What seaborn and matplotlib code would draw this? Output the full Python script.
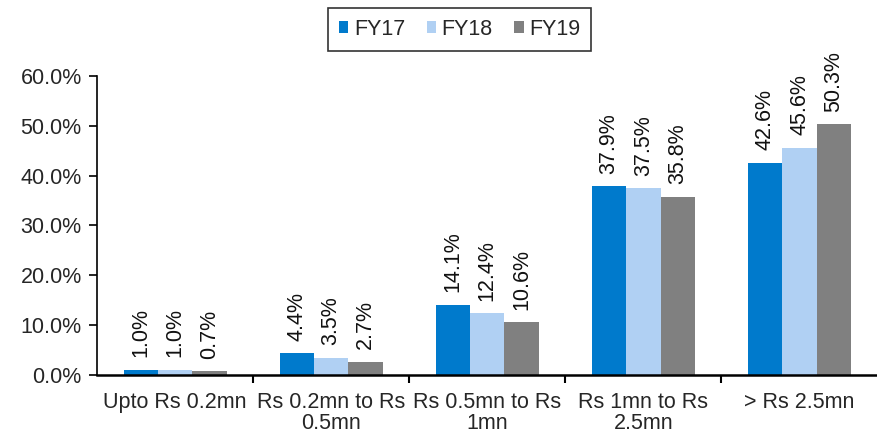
import matplotlib
matplotlib.use("Agg")
import matplotlib.pyplot as plt
import seaborn as sns
import pandas as pd
from matplotlib.ticker import FixedLocator, FuncFormatter

categories = ["Upto Rs 0.2mn", "Rs 0.2mn to Rs\n0.5mn", "Rs 0.5mn to Rs\n1mn",
              "Rs 1mn to Rs\n2.5mn", "> Rs 2.5mn"]
years = ["FY17", "FY18", "FY19"]
fy17 = [1.0, 4.4, 14.1, 37.9, 42.6]
fy18 = [1.0, 3.5, 12.4, 37.5, 45.6]
fy19 = [0.7, 2.7, 10.6, 35.8, 50.3]
colors = ["#007ACC", "#B0D0F3", "#808080"]

rows = []
for yr, vals in zip(years, [fy17, fy18, fy19]):
    for cat, v in zip(categories, vals):
        rows.append({"category": cat, "year": yr, "share": v})
df = pd.DataFrame(rows)

sns.set_style("white")
plt.rcParams["font.family"] = ["Liberation Sans", "DejaVu Sans"]

FS = 15.5
fig = plt.figure(figsize=(8.78, 4.33), dpi=100)
ax = fig.add_axes([0.1105, 0.134, 0.889, 0.6905])

sns.barplot(data=df, x="category", y="share", hue="year", order=categories,
            hue_order=years, palette=colors, width=0.66, gap=0,
            saturation=1, errorbar=None, ax=ax, edgecolor="none")

# value labels above each bar
for container, vals in zip(ax.containers, [fy17, fy18, fy19]):
    ax.bar_label(container, labels=[f"{v:.1f}%" for v in vals], rotation=90,
                 padding=9, fontsize=FS, color="#111111")

ax.set_ylim(0, 60)
ax.set_xlim(-0.5, len(categories) - 0.5)
ax.yaxis.set_major_locator(FixedLocator([0, 10, 20, 30, 40, 50, 60]))
ax.yaxis.set_major_formatter(FuncFormatter(lambda v, p: f"{v:.1f}%"))
ax.set_xlabel("")
ax.set_ylabel("")

# category separators as ticks between groups
ax.xaxis.set_minor_locator(FixedLocator([i + 0.5 for i in range(len(categories) - 1)]))
ax.tick_params(axis="x", which="major", length=0, pad=12, labelsize=FS)
ax.tick_params(axis="x", which="minor", length=6, width=1.5, direction="out",
               color="black", bottom=True)
ax.tick_params(axis="y", which="major", length=6, width=1.2, direction="out",
               color="black", left=True, labelsize=FS, pad=5)
for t in ax.get_xticklabels():
    t.set_linespacing(1.0)

for side in ["top", "right"]:
    ax.spines[side].set_visible(False)
ax.spines["left"].set_color("black")
ax.spines["left"].set_linewidth(1.2)
ax.spines["bottom"].set_color("black")
ax.spines["bottom"].set_linewidth(1.8)

leg = ax.legend(loc="upper center", bbox_to_anchor=(0.4645, 1.227), ncol=3,
                frameon=True, fancybox=False, edgecolor="black", fontsize=FS,
                handlelength=0.45, handleheight=0.45, handletextpad=0.25,
                columnspacing=1.0, borderpad=0.5, borderaxespad=0)
leg.get_frame().set_linewidth(1.2)

fig.savefig("out.png", dpi=100)
